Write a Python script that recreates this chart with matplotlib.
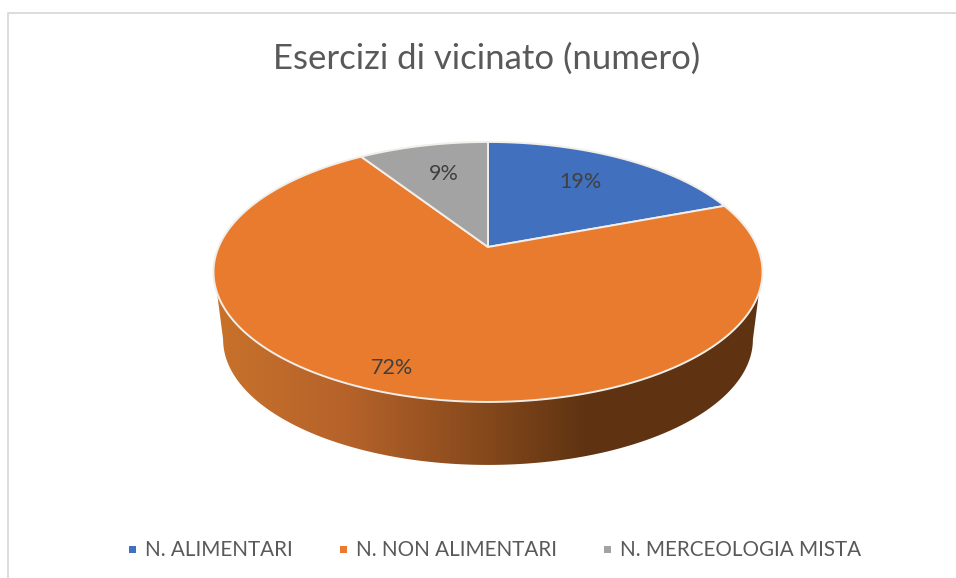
import numpy as np
import matplotlib
matplotlib.use("Agg")
import matplotlib.pyplot as plt
from matplotlib.colors import LinearSegmentedColormap
from matplotlib.patches import Polygon

titolo = "Esercizi di vicinato (numero)"
categorie = ["N. ALIMENTARI", "N. NON ALIMENTARI", "N. MERCEOLOGIA MISTA"]
valori = [19.3, 71.5, 9.2]
colori = ["#4170BE", "#E97B2E", "#A3A3A3"]

CX, CY = 488, 247
K = 0.192
A, B = 269.4, 125.2


def proietta(ang, scala=1.0, dy=0.0):
    # angolo in radianti da ore 12, in senso orario, sul disco in prospettiva
    u, v = np.sin(ang), np.cos(ang)
    w = 1 + K * v
    return CX + scala * A * u / w, CY + dy - scala * B * v / w


fig = plt.figure(figsize=(9.56, 5.78), dpi=100)
ax = fig.add_axes([0, 0, 1, 1])
ax.set_xlim(0, 956)
ax.set_ylim(578, 0)
ax.axis("off")

# cornice
ax.plot([8, 8, 956], [578, 13, 13], color="#D9D9D9", lw=1.3, zorder=1)

# fianco del cilindro, con sfumatura
t_alto = np.linspace(np.radians(110), np.radians(250), 200)
t_basso = np.linspace(np.radians(259), np.radians(101), 200)
xa, ya = proietta(t_alto)
xb, yb = proietta(t_basso, 0.965, 68.4)
fianco = Polygon(np.r_[np.c_[xa, ya], np.c_[xb, yb]], closed=True,
                 fc="none", ec="none", transform=ax.transData)
ax.add_patch(fianco)
cmap = LinearSegmentedColormap.from_list("fianco", [
    (0.0, "#C8722B"), (0.25, "#B5622A"), (0.5, "#84481B"),
    (0.68, "#5F3312"), (1.0, "#5F3312")])
grad = ax.imshow(np.linspace(0, 1, 512)[None, :], cmap=cmap, aspect="auto",
                 extent=[213, 762, 480, 270], zorder=2)
grad.set_clip_path(fianco)
ax.set_xlim(0, 956)
ax.set_ylim(578, 0)

# fette, dai valori
totale = sum(valori)
inizio = 0.0
for val, col in zip(valori, colori):
    fine = inizio + val / totale * 2 * np.pi
    t = np.linspace(inizio, fine, 300)
    x, y = proietta(t)
    ax.add_patch(Polygon(np.r_[[[CX, CY]], np.c_[x, y]], closed=True, fc=col,
                         ec="#F2EEE9", lw=1.4, joinstyle="round", zorder=3))
    inizio = fine

ax.text(487, 59, titolo, fontsize=25, family="Lato", color="#595959",
        ha="center", va="center")

pos_etichette = [(580, 182.5), (392, 367.5), (444, 173.5)]
for (px, py), val in zip(pos_etichette, valori):
    ax.text(px, py, f"{val:.0f}%", fontsize=15.5, family="Lato", color="#404040",
            ha="center", va="center", zorder=4)

# legenda
pos_legenda = [133, 344, 608]
for lx, nome, col in zip(pos_legenda, categorie, colori):
    ax.add_patch(Polygon([[lx - 3.5, 545.5], [lx + 3.5, 545.5], [lx + 3.5, 552.5],
                          [lx - 3.5, 552.5]], closed=True, fc=col, ec="none"))
    ax.text(lx + 12.5, 550.5, nome, fontsize=14.9, family="Lato", color="#595959",
            ha="left", va="center")

fig.savefig("out.png", dpi=100, facecolor="white")
